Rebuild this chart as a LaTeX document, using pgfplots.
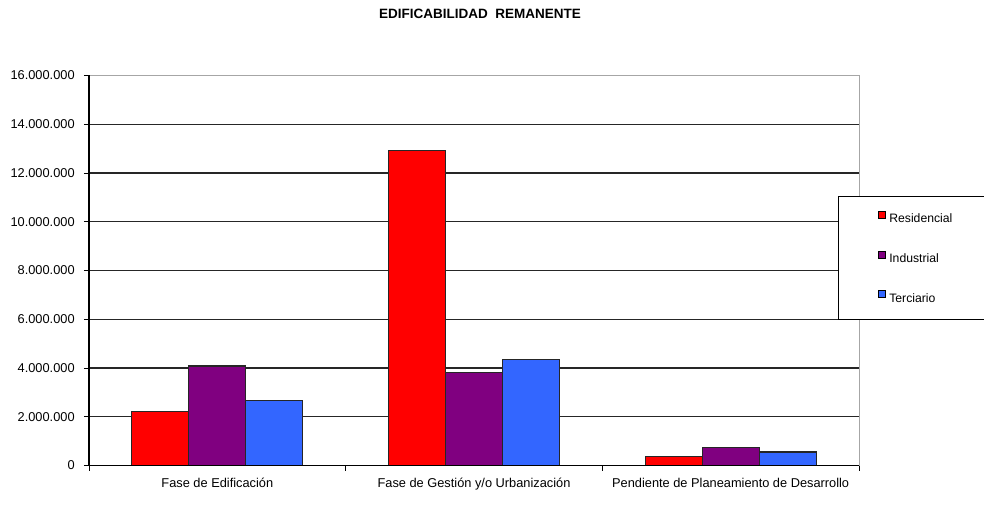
\documentclass[border=0pt]{standalone}
\usepackage{fontspec}
\setmainfont{Liberation Sans}
\usepackage{pgfplots}
\pgfplotsset{compat=1.18}
\definecolor{cres}{HTML}{FF0000}
\definecolor{cind}{HTML}{800080}
\definecolor{cter}{HTML}{3366FF}
\pgfplotsset{sq legend/.style={legend image code/.code={\draw[##1,draw=black,line width=0.9bp] (0bp,1bp) rectangle (7bp,8bp);}}}
\begin{document}
\fontsize{12.5bp}{15bp}\selectfont
\begin{tikzpicture}
\path[use as bounding box] (-89bp,-64.5bp) rectangle (895bp,465.5bp);
\begin{axis}[
  at={(0,0)}, anchor=south west,
  scale only axis, width=770bp, height=390bp,
  ymin=0, ymax=16000000,
  ytick={0,2000000,4000000,6000000,8000000,10000000,12000000,14000000,16000000},
  scaled y ticks=false,
  /pgf/number format/assume math mode=true,
  yticklabel style={/pgf/number format/fixed,/pgf/number format/precision=0,/pgf/number format/1000 sep={.}, xshift=-5bp},
  xmin=-0.5, xmax=2.5,
  xtick={-0.5,0.5,1.5,2.5}, xticklabels={,,,},
  xtick pos=lower, ytick pos=left,
  extra x ticks={0,1,2},
  extra x tick labels={Fase de Edificación, Fase de Gestión y/o Urbanización, Pendiente de Planeamiento de Desarrollo},
  extra x tick style={major tick length=0pt, xticklabel style={yshift=-8.5bp}},
  tick align=outside, major tick length=5bp,
  tick style={black, line width=0.9bp},
  tick label style={font=\fontsize{12.8bp}{15bp}\selectfont},
  ymajorgrids, grid style={black!85, line width=1.2bp},
  axis line style={draw=black!35, line width=1bp},
  ybar=0pt, bar width=57bp,
  title={EDIFICABILIDAD\ \ REMANENTE},
  title style={font=\bfseries\fontsize{13.5bp}{16bp}\selectfont, at={(axis description cs:0.5078,1.142)}, anchor=center},
  legend style={at={(axis description cs:0.9727,0.691)}, anchor=north west,
    draw=black, line width=0.9bp, fill=white, inner xsep=40bp, inner ysep=14.5bp,
    row sep=25.5bp, font=\fontsize{12.2bp}{14bp}\selectfont,
    nodes={inner sep=0pt, text height=9bp, text depth=2.5bp},
    /tikz/every even column/.append style={column sep=0pt}},
  legend cell align=left,
  after end axis/.code={
    \draw[black, line width=1.1bp] (rel axis cs:0,0) -- (rel axis cs:0,1);
    \draw[black, line width=1.1bp] (rel axis cs:0,0) -- (rel axis cs:1,0);
  },
]
\addplot[fill=cres, draw=black!85, line width=1.2bp, sq legend] coordinates {(0,2200000) (1,12930000) (2,360000)};
\addlegendentry{\hspace{3bp}Residencial\hspace{30bp}}
\addplot[fill=cind, draw=black!85, line width=1.2bp, sq legend] coordinates {(0,4080000) (1,3820000) (2,750000)};
\addlegendentry{\hspace{3bp}Industrial}
\addplot[fill=cter, draw=black!85, line width=1.2bp, sq legend] coordinates {(0,2660000) (1,4350000) (2,550000)};
\addlegendentry{\hspace{3bp}Terciario}
\end{axis}
\end{tikzpicture}
\end{document}
